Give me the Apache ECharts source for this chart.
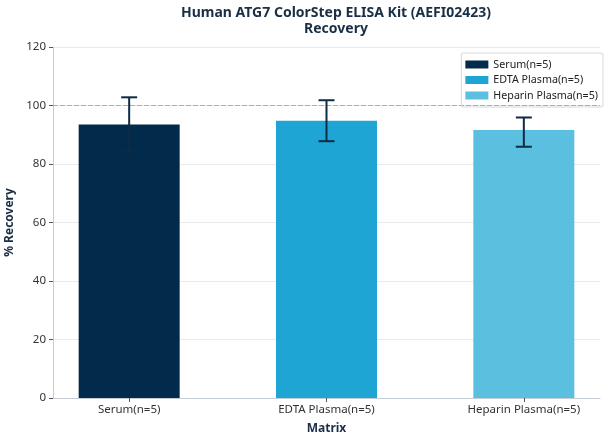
<!DOCTYPE html>
<html>
<head>
<meta charset="utf-8">
<script src="https://cdn.jsdelivr.net/npm/echarts@6/dist/echarts.min.js"></script>
<style>html,body{margin:0;padding:0;background:#fff}#c{width:608px;height:444px}</style>
</head>
<body>
<div id="c"></div>
<script>
var categories = ['Serum(n=5)', 'EDTA Plasma(n=5)', 'Heparin Plasma(n=5)'];
var means = [93.5, 94.8, 91.6];
var errLow = [84.2, 87.8, 85.9];
var errHigh = [102.8, 101.8, 95.9];
var colors = ['#022b4b', '#1ea5d3', '#5bbfe0'];
var yTicks = [0, 20, 40, 60, 80, 100, 120];
var refLine = 100;
var xRange = [-0.386, 2.386];

var FONT = 'Noto Sans';
var chart = echarts.init(document.getElementById('c'));

var barSeries = categories.map(function (name, i) {
  return {
    name: name,
    type: 'bar',
    barWidth: 101,
    barGap: '-100%',
    itemStyle: { color: colors[i] },
    data: [[i, means[i]]],
    z: 2
  };
});

var errData = categories.map(function (c, i) { return [i, errLow[i], errHigh[i]]; });

var option = {
  backgroundColor: '#ffffff',
  animation: false,
  textStyle: { fontFamily: FONT },
  title: {
    text: 'Human ATG7 ColorStep ELISA Kit (AEFI02423)\nRecovery',
    left: 331,
    textAlign: 'center',
    top: 0,
    textStyle: { fontFamily: FONT, fontSize: 14, fontWeight: 'bold', color: '#1a2f45', lineHeight: 16 }
  },
  legend: {
    orient: 'vertical',
    right: 5,
    top: 53,
    icon: 'rect',
    itemWidth: 23,
    itemHeight: 8,
    itemGap: 4.5,
    padding: [6, 5, 6, 4],
    borderColor: '#d5d9dd',
    borderWidth: 1,
    borderRadius: 2,
    textStyle: { fontFamily: FONT, fontSize: 10.7, color: '#222' },
    data: categories
  },
  grid: { left: 53, right: 8, top: 47, bottom: 46, containLabel: false, outerBoundsMode: 'none' },
  xAxis: {
    type: 'value',
    min: xRange[0],
    max: xRange[1],
    name: 'Matrix',
    nameLocation: 'middle',
    nameGap: 25,
    nameTextStyle: { fontFamily: FONT, fontSize: 12, fontWeight: 'bold', color: '#1a2f45' },
    axisLine: { show: true, onZero: false, lineStyle: { color: '#c5ced6', width: 1 } },
    axisTick: { show: true, customValues: [0, 1, 2], length: 4, lineStyle: { color: '#555' } },
    axisLabel: {
      customValues: [0, 1, 2],
      formatter: function (v) { return categories[Math.round(v)]; },
      fontFamily: FONT, fontSize: 11.5, color: '#333', margin: 6
    },
    splitLine: { show: false }
  },
  yAxis: {
    type: 'value',
    min: 0,
    max: 120,
    interval: 20,
    name: '% Recovery',
    nameLocation: 'middle',
    nameGap: 34,
    nameTextStyle: { fontFamily: FONT, fontSize: 12, fontWeight: 'bold', color: '#1a2f45' },
    axisLine: { show: true, onZero: false, lineStyle: { color: '#c5ced6', width: 1 } },
    axisTick: { show: true, length: 4, lineStyle: { color: '#555' } },
    axisLabel: {
      fontFamily: FONT, fontSize: 11.5, color: '#333', margin: 7,
      formatter: function (v) { return yTicks.indexOf(v) >= 0 ? String(v) : ''; }
    },
    splitLine: { show: true, lineStyle: { color: '#e6eaed', width: 1 } }
  },
  series: barSeries.concat([{
    name: 'ref',
    type: 'line',
    silent: true,
    symbol: 'none',
    z: 3,
    lineStyle: { color: '#74c2d2', type: [5, 2], width: 1.2 },
    data: [[xRange[0], refLine], [xRange[1], refLine]]
  }, {
    name: 'err',
    type: 'custom',
    z: 5,
    data: errData,
    encode: { x: 0, y: [1, 2] },
    renderItem: function (params, api) {
      var x = api.value(0);
      var lo = api.coord([x, api.value(1)]);
      var hi = api.coord([x, api.value(2)]);
      var hw = 8;
      var st = { stroke: '#0f2a44', lineWidth: 2, fill: null };
      return {
        type: 'group',
        children: [
          { type: 'line', shape: { x1: hi[0], y1: hi[1], x2: lo[0], y2: lo[1] }, style: st },
          { type: 'line', shape: { x1: hi[0] - hw, y1: hi[1], x2: hi[0] + hw, y2: hi[1] }, style: st },
          { type: 'line', shape: { x1: lo[0] - hw, y1: lo[1], x2: lo[0] + hw, y2: lo[1] }, style: st }
        ]
      };
    }
  }])
};
chart.setOption(option);
</script>
</body>
</html>
